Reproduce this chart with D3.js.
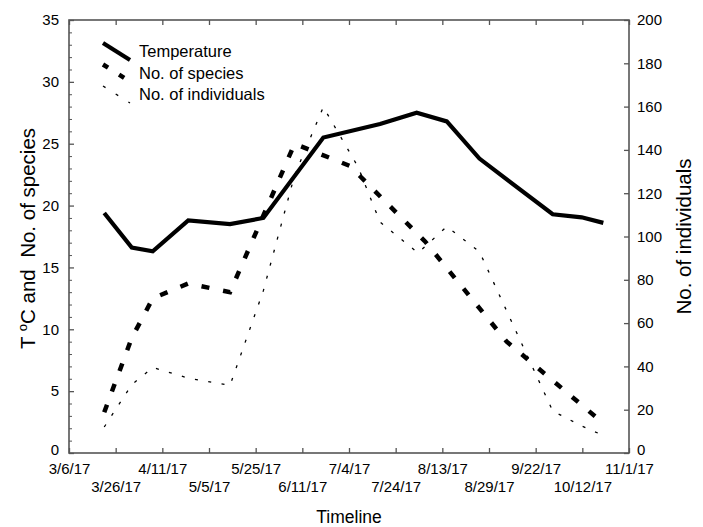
<!DOCTYPE html>
<html><head><meta charset="utf-8">
<script src="https://cdn.jsdelivr.net/npm/d3@7/dist/d3.min.js"></script>
<style>body{margin:0;background:#fff;} svg{display:block;font-family:Arial,"Liberation Sans",sans-serif;}</style>
</head><body>
<svg id="c" width="703" height="527"></svg>
<script>
// x values are days after 3/6/17 (axis spans 240 days)
const xTickLabels = ["3/6/17","3/26/17","4/11/17","5/5/17","5/25/17","6/11/17","7/4/17","7/24/17","8/13/17","8/29/17","9/22/17","10/12/17","11/1/17"];
const leftTicks = [0,5,10,15,20,25,30,35];
const rightTicks = [0,20,40,60,80,100,120,140,160,180,200];

const tempDays = [15.1,26.9,35.9,51.1,69.0,83.3,109.0,133.3,149.0,161.9,175.9,207.3,219.7,229.0];
const tempVals = [19.4,16.6,16.3,18.8,18.5,19.0,25.5,26.6,27.5,26.8,23.8,19.3,19.05,18.6];

const speciesDays = [15.1,26.9,35.9,51.1,69.0,96.7,120.4,152.6,187.6,229.0];
const speciesVals = [3.3,9.3,12.5,13.7,13.0,25.0,23.2,17.1,9.0,2.4];

const indivDays = [15.1,26.9,35.9,51.1,69.0,83.3,96.7,109.0,123.9,133.3,149.6,161.9,175.9,207.3,219.7,229.0];
const indivVals = [12,31.6,39.5,34.6,31.2,75,128.4,159.8,132.1,106.7,92.4,104.6,93,19.4,12.5,8.1];

const seriesNames = ["Temperature","No. of species","No. of individuals"];

const svg = d3.select("#c");
const L=69, R=629, T=20, B=453;
const x = d3.scaleLinear().domain([0,240]).range([L,R]);
const yL = d3.scaleLinear().domain([0,35]).range([B,T]);
const yR = d3.scaleLinear().domain([0,200]).range([B,T]);
const axisColor = "#555";
const fs = 15;

// frame
svg.append("rect").attr("x",L).attr("y",T).attr("width",R-L).attr("height",B-T)
  .attr("fill","none").attr("stroke",axisColor).attr("stroke-width",1.6);

const xt = d3.range(0,241,20);
// bottom axis
const gb = svg.append("g").attr("transform",`translate(0,${B})`)
  .call(d3.axisBottom(x).tickValues(xt).tickSize(-5).tickSizeOuter(0).tickPadding(6)
    .tickFormat((d,i)=>xTickLabels[i]));
gb.select(".domain").remove();
gb.selectAll(".tick line").attr("stroke",axisColor).attr("stroke-width",1.3);
gb.selectAll("text").attr("font-size",fs).attr("fill","#000")
  .attr("y",(d,i)=> i%2 ? 28 : 10);
// top ticks
const gt = svg.append("g").attr("transform",`translate(0,${T})`)
  .call(d3.axisTop(x).tickValues(xt).tickSize(-5).tickSizeOuter(0).tickFormat(""));
gt.select(".domain").remove();
gt.selectAll(".tick line").attr("stroke",axisColor).attr("stroke-width",1.3);

// left axis
const gl = svg.append("g").attr("transform",`translate(${L},0)`)
  .call(d3.axisLeft(yL).tickValues(leftTicks).tickSize(-5).tickSizeOuter(0).tickPadding(10));
gl.select(".domain").remove();
gl.selectAll(".tick line").attr("stroke",axisColor).attr("stroke-width",1.3);
gl.selectAll("text").attr("font-size",fs).attr("fill","#000");
gl.selectAll(".tick").filter(d=>d===0).select("text").attr("dy","0.1em");
const glm = svg.append("g").attr("transform",`translate(${L},0)`)
  .call(d3.axisLeft(yL).tickValues(d3.range(0,36,1).filter(v=>v%5)).tickSize(-3).tickSizeOuter(0).tickFormat(""));
glm.select(".domain").remove();
glm.selectAll(".tick line").attr("stroke",axisColor).attr("stroke-width",1);

// right axis
const gr = svg.append("g").attr("transform",`translate(${R},0)`)
  .call(d3.axisRight(yR).tickValues(rightTicks).tickSize(-5).tickSizeOuter(0).tickPadding(8));
gr.select(".domain").remove();
gr.selectAll(".tick line").attr("stroke",axisColor).attr("stroke-width",1.3);
gr.selectAll("text").attr("font-size",fs).attr("fill","#000");
gr.selectAll(".tick").filter(d=>d===0).select("text").attr("dy","0.1em");

// lines
const lineL = d3.line().x(d=>x(d[0])).y(d=>yL(d[1]));
const lineR = d3.line().x(d=>x(d[0])).y(d=>yR(d[1]));
const indiv = indivDays.map((d,i)=>[d,indivVals[i]]);
const species = speciesDays.map((d,i)=>[d,speciesVals[i]]);
const temp = tempDays.map((d,i)=>[d,tempVals[i]]);

const styles = [
  {w:4.2, dash:null},
  {w:4.5, dash:"8,14"},
  {w:1.3, dash:"3,10.5"}
];
svg.append("path").attr("d",lineR(indiv)).attr("fill","none").attr("stroke","#000")
  .attr("stroke-width",styles[2].w).attr("stroke-dasharray",styles[2].dash);
svg.append("path").attr("d",lineL(species)).attr("fill","none").attr("stroke","#000")
  .attr("stroke-width",styles[1].w).attr("stroke-dasharray",styles[1].dash);
svg.append("path").attr("d",lineL(temp)).attr("fill","none").attr("stroke","#000")
  .attr("stroke-width",styles[0].w).attr("stroke-linejoin","miter");

// legend
seriesNames.forEach((n,i)=>{
  const y0 = 43 + i*21.5;
  svg.append("line").attr("x1",103).attr("y1",y0).attr("x2",130).attr("y2",y0+17)
    .attr("stroke","#000").attr("stroke-width",styles[i].w)
    .attr("stroke-dasharray",i===1?"6,13":(i===2?"3,12":null));
  svg.append("text").attr("x",139).attr("y",y0+14).attr("font-size",16.5).text(n);
});

// axis titles
svg.append("text").attr("x",(L+R)/2).attr("y",523).attr("text-anchor","middle")
  .attr("font-size",17.5).text("Timeline");
const lt = svg.append("text").attr("transform",`translate(35,${(T+B)/2+2}) rotate(-90)`)
  .attr("text-anchor","middle").attr("font-size",20.5);
lt.append("tspan").text("T ");
lt.append("tspan").attr("font-size",13).attr("dy",-8).text("o");
lt.append("tspan").attr("dy",8).text("C and \u00a0No. of species");
svg.append("text").attr("transform",`translate(691,${(T+B)/2}) rotate(-90)`)
  .attr("text-anchor","middle").attr("font-size",20.5).text("No. of individuals");
</script>
</body></html>
